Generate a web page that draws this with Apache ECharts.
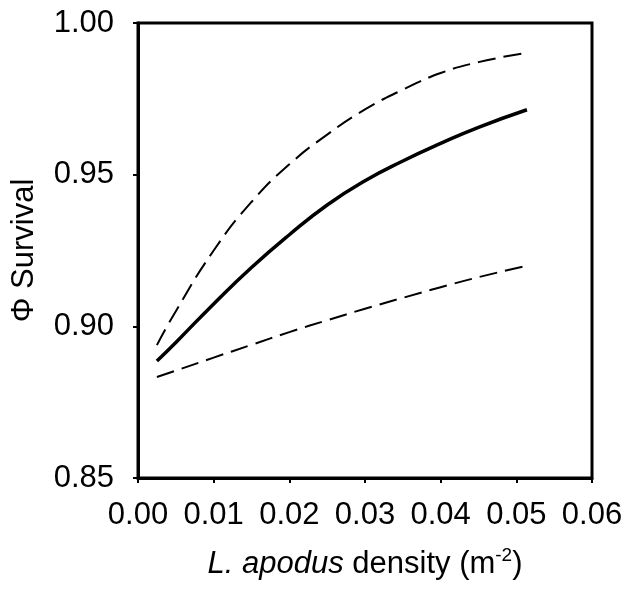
<!DOCTYPE html>
<html>
<head>
<meta charset="utf-8">
<script src="https://cdn.jsdelivr.net/npm/echarts@6/dist/echarts.min.js"></script>
<style>html,body{margin:0;padding:0;background:#fff;}#c{width:630px;height:596px;}</style>
</head>
<body>
<div id="c"></div>
<script>
var density = [0.0025, 0.005, 0.010, 0.015, 0.020, 0.025, 0.030, 0.035, 0.040, 0.045, 0.0514];
var survivalFit = [0.8886, 0.8947, 0.9074, 0.9194, 0.9302, 0.9400, 0.9480, 0.9545, 0.9603, 0.9656, 0.9714];
var survivalUpper = [0.8938, 0.9050, 0.9250, 0.9410, 0.9534, 0.9632, 0.9715, 0.9780, 0.9835, 0.9871, 0.9902];
var survivalLower = [0.8833, 0.8854, 0.8897, 0.8939, 0.8981, 0.9020, 0.9058, 0.9094, 0.9129, 0.9162, 0.9200];
var xTicks = ['0.00', '0.01', '0.02', '0.03', '0.04', '0.05', '0.06'];
var yTicks = ['0.85', '0.90', '0.95', '1.00'];

function pairs(xs, ys) { return xs.map(function (x, i) { return [x, ys[i]]; }); }

var FONT = '"Liberation Sans", Arial, sans-serif';
var chart = echarts.init(document.getElementById('c'), null, { renderer: 'canvas' });
chart.setOption({
  animation: false,
  backgroundColor: '#fff',
  grid: { left: 138, right: 38, top: 23, bottom: 118, show: true, borderColor: '#000', borderWidth: 3 },
  xAxis: {
    type: 'value', min: 0, max: 0.06, interval: 0.01,
    axisLine: { show: true, lineStyle: { color: '#000', width: 3 } },
    axisTick: { show: true, length: 5, lineStyle: { color: '#000', width: 2 } },
    splitLine: { show: false },
    axisLabel: { margin: 22, fontSize: 31, color: '#000', fontFamily: FONT,
      formatter: function (v) { return xTicks[Math.round(v / 0.01)]; } },
    name: '{i|L. apodus} density (m{s|-2})',
    nameLocation: 'middle', nameGap: 68,
    nameTextStyle: { fontSize: 31, color: '#000', fontFamily: FONT,
      rich: {
        i: { fontStyle: 'italic', fontSize: 31, color: '#000', fontFamily: FONT },
        s: { fontSize: 19, color: '#000', fontFamily: FONT, verticalAlign: 'top', padding: [0, 0, 18, 0] }
      } }
  },
  yAxis: {
    type: 'value', min: 0.85, max: 1.0, interval: 0.05,
    axisLine: { show: true, lineStyle: { color: '#000', width: 3 } },
    axisTick: { show: true, length: 5, lineStyle: { color: '#000', width: 2 } },
    splitLine: { show: false },
    axisLabel: { margin: 24, fontSize: 31, color: '#000', fontFamily: FONT,
      formatter: function (v) { return yTicks[Math.round((v - 0.85) / 0.05)]; } },
    name: '\u03A6 Survival',
    nameLocation: 'middle', nameGap: 98,
    nameTextStyle: { fontSize: 31, color: '#000', fontFamily: FONT }
  },
  series: [
    { type: 'line', data: pairs(density, survivalUpper), smooth: true, symbol: 'none',
      lineStyle: { color: '#000', width: 2, type: [18, 8] } },
    { type: 'line', data: pairs(density, survivalFit), smooth: true, symbol: 'none',
      lineStyle: { color: '#000', width: 3.5 } },
    { type: 'line', data: pairs(density, survivalLower), smooth: true, symbol: 'none',
      lineStyle: { color: '#000', width: 2, type: [18, 8] } }
  ]
});
</script>
</body>
</html>
